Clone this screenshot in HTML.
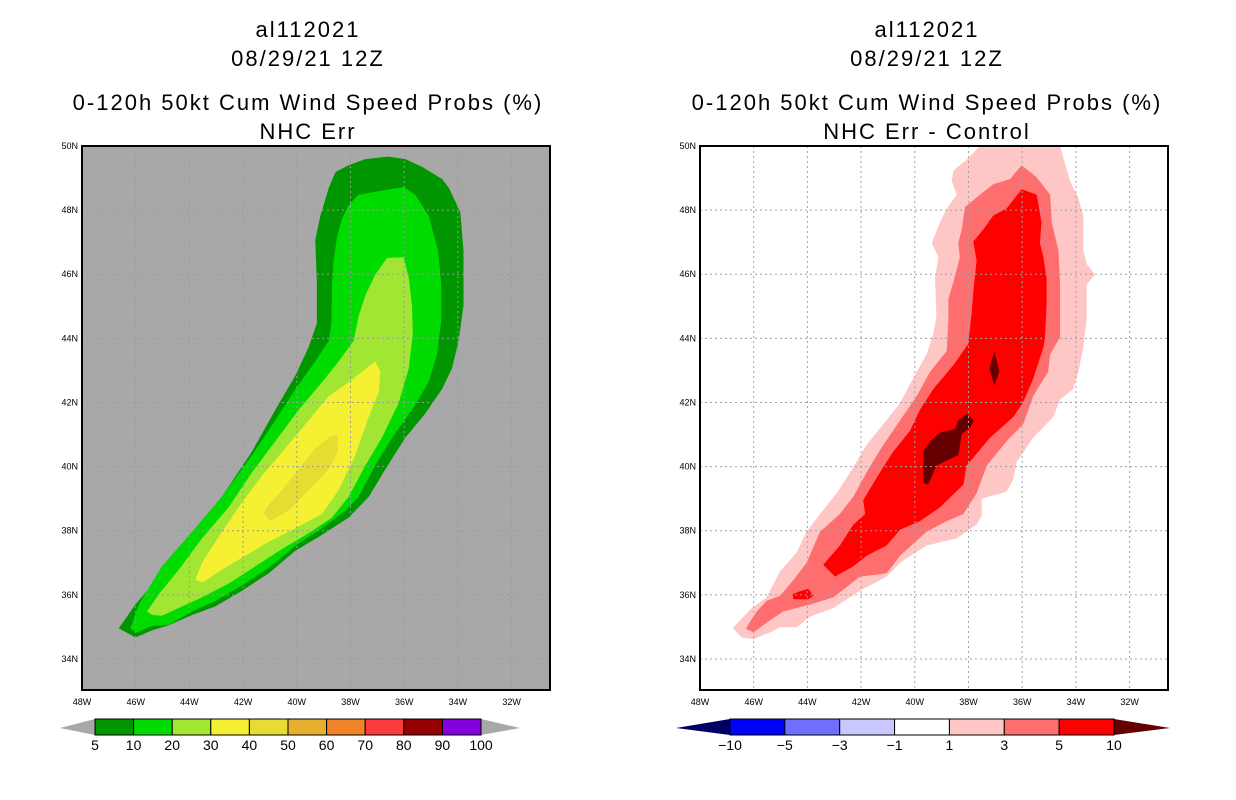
<!DOCTYPE html>
<html><head><meta charset="utf-8"><style>
body{margin:0;background:#fff;}
svg{display:block;font-family:"Liberation Sans",sans-serif;}
.t{font-size:22px;letter-spacing:2px;text-anchor:middle;fill:#000;}
.tk{font-size:9px;fill:#000;}
.cb{font-size:14px;text-anchor:middle;fill:#000;}
</style></head><body>
<svg id="chart" width="1236" height="800" viewBox="0 0 1236 800">
<g>
<text class="t" x="308" y="37">al112021</text>
<text class="t" x="308" y="66">08/29/21 12Z</text>
<text class="t" x="308" y="110">0-120h 50kt Cum Wind Speed Probs (%)</text>
<text class="t" x="308" y="139">NHC Err</text>
</g>
<g>
<text class="t" x="927" y="37">al112021</text>
<text class="t" x="927" y="66">08/29/21 12Z</text>
<text class="t" x="927" y="110">0-120h 50kt Cum Wind Speed Probs (%)</text>
<text class="t" x="927" y="139">NHC Err - Control</text>
</g>
<g id="left"></g>
<g id="right"></g>
<g id="cbl"></g>
<g id="cbr"></g>
</svg>
<script>
const lonTicks=[48,46,44,42,40,38,36,34,32];
const latTicks=[50,48,46,44,42,40,38,36,34];
// left panel contours [lon W, lat N]
const leftC5=[[46.63,34.96],[46.01,34.67],[45.39,34.89],[44.77,35.05],[43.90,35.37],[43.03,35.64],[42.04,36.13],[41.05,36.67],[40.05,37.38],[39.06,37.87],[38.07,38.41],[37.32,39.06],[36.70,39.92],[35.96,40.90],[35.21,41.66],[34.59,42.42],[34.22,43.07],[33.97,43.93],[33.79,45.02],[33.79,46.75],[33.91,47.94],[34.34,48.70],[34.59,48.97],[35.34,49.35],[35.96,49.59],[36.58,49.67],[37.45,49.59],[38.07,49.40],[38.56,49.19],[38.81,48.70],[39.12,47.83],[39.31,47.07],[39.25,45.67],[39.25,44.47],[39.56,43.72],[40.05,42.85],[40.80,41.77],[41.67,40.47],[42.79,39.06],[43.90,37.87],[45.02,36.67],[46.01,35.70]];
const leftC10=[[46.20,34.94],[45.95,34.83],[45.39,35.03],[44.77,35.07],[43.90,35.48],[43.03,35.81],[42.04,36.29],[41.05,36.84],[40.05,37.54],[39.06,38.08],[38.19,38.62],[37.70,39.06],[37.08,40.03],[36.45,40.90],[35.71,41.77],[35.09,42.63],[34.78,43.50],[34.62,44.58],[34.62,45.67],[34.74,46.75],[35.09,47.83],[35.59,48.48],[36.02,48.72],[36.83,48.61],[37.70,48.48],[38.07,48.16],[38.32,47.72],[38.50,47.18],[38.63,46.42],[38.69,45.67],[38.71,44.47],[38.81,43.93],[39.31,43.28],[40.05,42.42],[40.80,41.44],[41.67,40.36],[42.79,39.06],[43.90,37.97],[45.02,36.89],[45.89,35.70]];
const leftC20=[[45.58,35.48],[45.39,35.37],[45.02,35.35],[44.40,35.59],[43.53,35.92],[42.54,36.35],[41.54,36.89],[40.55,37.43],[39.56,37.92],[38.69,38.41],[38.07,39.06],[37.45,40.03],[36.83,40.90],[36.21,41.98],[35.83,43.07],[35.68,44.15],[35.71,45.02],[35.83,45.88],[36.02,46.53],[36.64,46.51],[37.08,45.99],[37.45,45.34],[37.70,44.69],[37.88,43.93],[38.44,43.28],[39.06,42.63],[39.93,41.77],[40.80,40.79],[41.67,39.82],[42.54,38.73],[43.53,37.76],[44.40,36.78],[45.14,36.02]];
const leftC30=[[43.78,36.46],[43.47,36.40],[42.79,36.78],[42.04,37.16],[41.05,37.65],[40.05,38.08],[39.06,38.52],[38.44,39.27],[37.82,40.36],[37.32,41.55],[36.95,42.31],[36.89,42.96],[37.08,43.28],[38.07,42.63],[38.81,42.20],[39.56,41.44],[40.43,40.57],[41.30,39.71],[42.17,38.73],[43.03,37.65],[43.53,37.00]];
const leftC40=[[41.23,38.52],[40.99,38.30],[40.30,38.62],[39.56,39.27],[38.81,39.92],[38.47,40.47],[38.50,41.01],[38.81,40.90],[39.31,40.57],[39.93,39.92],[40.55,39.27],[41.11,38.73]];
// right panel contours
const rightC1=[[46.78,34.96],[46.45,34.67],[46.01,34.62],[45.39,34.83],[45.02,34.99],[44.40,34.99],[43.90,35.32],[43.03,35.59],[42.04,36.13],[41.05,36.57],[40.55,37.00],[39.56,37.54],[38.44,37.76],[37.70,38.19],[37.51,38.46],[37.51,39.00],[36.58,39.22],[36.33,39.60],[36.21,40.14],[35.59,40.90],[34.84,41.55],[34.59,42.09],[34.10,42.42],[33.91,42.96],[33.72,43.72],[33.60,44.58],[33.60,45.67],[33.29,45.99],[33.60,46.32],[33.72,46.75],[33.72,47.83],[33.91,48.37],[34.22,48.92],[34.41,49.46],[34.59,50.0],[35.52,50.0],[37.57,50.0],[38.07,49.57],[38.56,49.24],[38.63,48.92],[38.44,48.48],[38.81,48.05],[39.06,47.62],[39.37,46.97],[39.12,46.53],[39.25,45.88],[39.19,44.69],[39.31,44.15],[39.56,43.50],[39.93,42.96],[40.55,41.98],[41.17,41.33],[41.79,40.68],[42.41,39.82],[42.91,39.17],[43.53,38.52],[44.03,37.97],[44.40,37.32],[45.02,36.73],[45.52,35.92],[46.14,35.54]];
const rightC3=[[46.29,34.94],[46.01,34.83],[45.39,35.21],[44.90,35.48],[43.90,35.70],[43.03,35.92],[42.04,36.57],[41.05,36.67],[40.55,37.22],[39.56,37.97],[38.81,38.30],[38.19,38.52],[37.70,39.17],[37.32,40.03],[36.58,40.79],[35.96,41.33],[35.59,42.20],[35.03,42.96],[34.96,43.50],[34.59,44.04],[34.59,45.67],[34.65,46.75],[34.90,47.62],[34.96,48.48],[35.46,49.02],[36.02,49.40],[36.45,48.97],[37.08,48.81],[37.57,48.48],[38.13,48.10],[38.25,47.40],[38.38,46.97],[38.32,46.53],[38.56,45.77],[38.75,45.23],[38.75,44.58],[38.81,43.61],[39.43,42.96],[39.93,42.20],[40.55,41.44],[41.17,40.68],[41.73,39.92],[42.29,39.06],[42.79,38.52],[43.53,37.97],[44.03,37.00],[44.52,36.46],[45.02,35.97],[45.52,35.81],[45.89,35.48],[46.14,35.16]];
const rightC5=[[43.41,36.94],[42.97,36.57],[42.29,36.89],[41.79,37.22],[41.05,37.54],[40.55,38.03],[39.81,38.30],[39.06,38.73],[38.19,39.44],[38.07,40.03],[37.20,40.90],[36.33,41.55],[35.98,41.98],[35.59,42.74],[35.21,43.72],[35.15,44.04],[35.09,45.12],[35.09,45.88],[35.21,46.53],[35.34,46.97],[35.28,47.62],[35.46,48.48],[36.02,48.65],[36.58,48.05],[37.08,47.83],[37.45,47.40],[37.82,47.02],[37.70,46.42],[37.82,45.45],[37.88,44.80],[38.01,43.82],[38.56,43.17],[39.31,42.42],[39.81,41.77],[40.18,41.12],[40.80,40.47],[41.30,39.82],[41.92,38.95],[41.85,38.52],[42.29,38.19],[42.79,37.54]];
const rightC5b=[[44.55,36.02],[44.28,36.11],[43.97,36.19],[43.78,35.97],[43.97,35.86],[44.52,35.86]];
const rightC10a=[[39.68,40.47],[39.68,39.49],[39.50,39.44],[39.19,40.03],[38.81,40.19],[38.38,40.36],[38.25,41.01],[37.94,41.22],[37.80,41.44],[38.07,41.64],[38.38,41.44],[38.50,41.17],[39.06,41.06],[39.43,40.79]];
const rightC10b=[[37.04,43.59],[36.85,42.98],[37.04,42.52],[37.22,43.07]];
const leftLevels=["5","10","20","30","40","50","60","70","80","90","100"];
const leftColors=["#009600","#00dc00","#a0e632","#f5f032","#e6dc32","#e6af2d","#f08228","#fa3c3c","#960000","#8200dc"];
const rightLevels=["\u221210","\u22125","\u22123","\u22121","1","3","5","10"];
const rightColors=["#0000ff","#6e6eff","#c8c8ff","#ffffff","#ffc6c6","#ff6e6e","#ff0000"];

const NS="http://www.w3.org/2000/svg";
function mk(tag,attrs,parent){const e=document.createElementNS(NS,tag);for(const k in attrs)e.setAttribute(k,attrs[k]);parent.appendChild(e);return e;}
const PW=468,PH=544,LONW=48,LONE=48-468/26.85,LATT=50,LATB=50-544/32.06;
function panel(g,x0,y0,bg,grid,layers){
  const sx=lon=>x0+(LONW-lon)/(LONW-LONE)*PW;
  const sy=lat=>y0+(LATT-lat)/(LATT-LATB)*PH;
  const r=mk('rect',{x:x0,y:y0,width:PW,height:PH,fill:bg},g);
  
  
  layers.forEach(L=>{
    const p=mk('polygon',{points:L.pts.map(q=>sx(q[0]).toFixed(1)+','+sy(q[1]).toFixed(1)).join(' '),fill:L.c},g);
    
    
  });
  lonTicks.forEach(t=>{
    const x=sx(t);
    if(t!==48){const l=mk('line',{x1:x,y1:y0,x2:x,y2:y0+PH,stroke:grid,'stroke-width':1,'stroke-dasharray':'2,3'},g);
    
    }
    const tx=mk('text',{x:x,y:y0+PH+15,'text-anchor':'middle',class:'tk'},g);tx.textContent=t+'W';
    
    
  });
  latTicks.forEach(t=>{
    const y=sy(t);
    if(t!==50){const l=mk('line',{x1:x0,y1:y,x2:x0+PW,y2:y,stroke:grid,'stroke-width':1,'stroke-dasharray':'2,3'},g);
    
    }
    const tx=mk('text',{x:x0-4,y:y+3,'text-anchor':'end',class:'tk'},g);tx.textContent=t+'N';
    
    
  });
  const f=mk('rect',{x:x0,y:y0,width:PW,height:PH,fill:'none',stroke:'#000','stroke-width':2},g);
  
  
}
panel(document.getElementById('left'),82,146,'#a8a8a8','#9a9a9a',[
 {pts:leftC5,c:leftColors[0],n:'contour-5'},{pts:leftC10,c:leftColors[1],n:'contour-10'},
 {pts:leftC20,c:leftColors[2],n:'contour-20'},{pts:leftC30,c:leftColors[3],n:'contour-30'},
 {pts:leftC40,c:leftColors[4],n:'contour-40'}]);
panel(document.getElementById('right'),700,146,'#ffffff','#a0a0a0',[
 {pts:rightC1,c:rightColors[4],n:'contour-1'},{pts:rightC3,c:rightColors[5],n:'contour-3'},
 {pts:rightC5,c:rightColors[6],n:'contour-5'},{pts:rightC5b,c:rightColors[6],n:'contour-5-small'},
 {pts:rightC10a,c:'#660000',n:'contour-10-a'},{pts:rightC10b,c:'#660000',n:'contour-10-b'}]);

function colorbar(g,x0,x1,tl,tr,colors,levels,lc,rc){
  const y0=719,h=16,n=colors.length,w=(x1-x0)/n;
  const a=mk('polygon',{points:`${tl},${y0+h/2+1} ${x0},${y0} ${x0},${y0+h}`,fill:lc},g);
  
  
  const b=mk('polygon',{points:`${tr},${y0+h/2+1} ${x1},${y0} ${x1},${y0+h}`,fill:rc},g);
  
  
  colors.forEach((c,i)=>{
    const r=mk('rect',{x:x0+i*w,y:y0,width:w,height:h,fill:c,stroke:'#000','stroke-width':1},g);
    
    
  });
  levels.forEach((t,i)=>{
    const tx=mk('text',{x:x0+i*w,y:y0+h+15,class:'cb'},g);tx.textContent=t;
    
    
  });
}
colorbar(document.getElementById('cbl'),95,481,60,520,leftColors,leftLevels,'#a8a8a8','#a8a8a8');
colorbar(document.getElementById('cbr'),730,1114,676,1170,rightColors,rightLevels,'#000064','#640000');
</script>
</body></html>
